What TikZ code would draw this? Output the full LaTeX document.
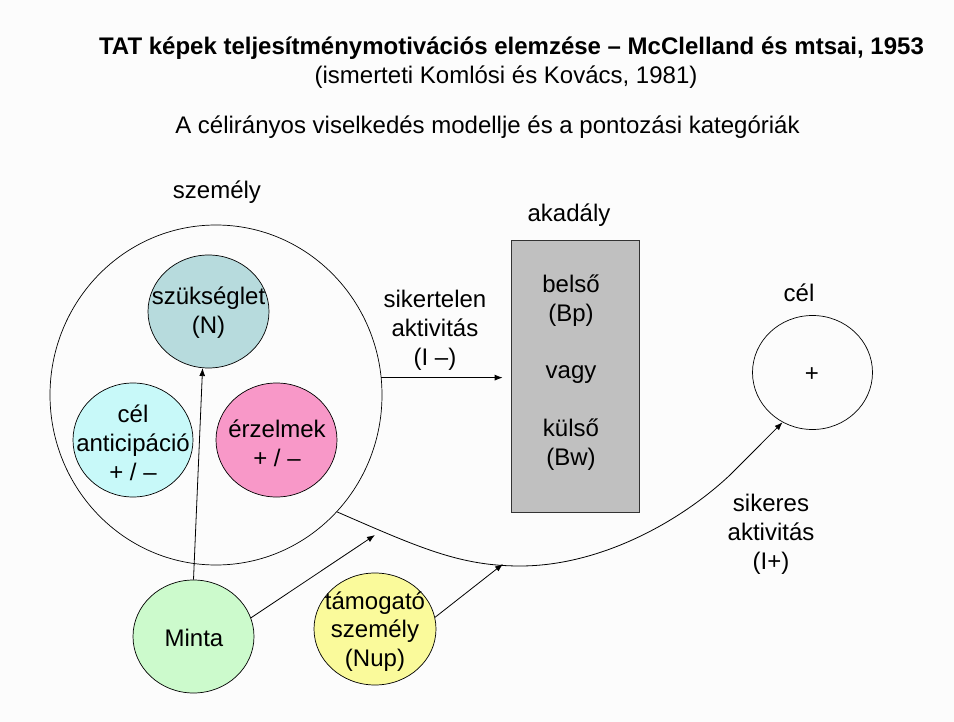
\documentclass[tikz,border=0pt]{standalone}
\usepackage{fontspec}
\setmainfont{Liberation Sans}
\usetikzlibrary{shapes.geometric,arrows.meta}
\definecolor{bg}{RGB}{252,252,252}
\definecolor{cSzuk}{RGB}{183,219,221}
\definecolor{cAnt}{RGB}{200,249,249}
\definecolor{cErz}{RGB}{248,152,200}
\definecolor{cMinta}{RGB}{204,250,204}
\definecolor{cTam}{RGB}{250,250,155}
\definecolor{cBox}{RGB}{192,192,192}
\begin{document}
\begin{tikzpicture}[x=1pt,y=-1pt,
  txt/.style={font=\fontsize{24}{28.8}\selectfont, align=center, inner sep=0pt},
  circ/.style={ellipse, draw=black, line width=0.7pt, inner sep=0pt},
  arr/.style={-{Latex[length=8pt,width=6pt]}, line width=0.8pt}]
\fill[bg] (0,0) rectangle (954,722);
\useasboundingbox (0,0) rectangle (954,722);

% titles
\node[txt, font=\fontsize{24}{28.8}\selectfont\bfseries] (title) at (511.5,48.5)
  {TAT képek teljesítménymotivációs elemzése – McClelland és mtsai, 1953};
\node[txt] (sub) at (506,77.5) {(ismerteti Komlósi és Kovács, 1981)};
\node[txt] (sub2) at (487.5,127.5) {A célirányos viselkedés modellje és a pontozási kategóriák};

% person
\node[txt] (szemlab) at (217,192.5) {személy};
\node[circ, minimum width=332, minimum height=340] (big) at (216,395) {};
\node[circ, fill=cSzuk, minimum width=121, minimum height=113] (szuk) at (208.5,311.5) {};
\node[txt] (szukT) at (208.5,313) {szükséglet\\(N)};
\node[circ, fill=cAnt, minimum width=120, minimum height=114] (ant) at (133,440) {};
\node[txt] (antT) at (133,442.5) {cél\\anticipáció\\+ / –};
\node[circ, fill=cErz, minimum width=121, minimum height=114] (erz) at (276.5,440) {};
\node[txt] (erzT) at (277,443.5) {érzelmek\\+ / –};

% minta and tamogato
\node[circ, fill=cMinta, minimum width=121, minimum height=113] (minta) at (193.5,636.5) {};
\node[txt] (mintaT) at (194,638) {Minta};
\node[circ, fill=cTam, minimum width=122, minimum height=112] (tam) at (375,629) {};
\node[txt] (tamT) at (375,631.5) {támogató\\személy\\(Nup)};

% obstacle
\node[txt] (akadlab) at (569,215.5) {akadály};
\node[draw=black!80, line width=0.7pt, fill=cBox, minimum width=128, minimum height=272, inner sep=0pt] (box) at (575,376) {};
\node[txt] (boxT) at (571,372.5) {belső\\(Bp)\\[28.8pt]vagy\\[28.8pt]külső\\(Bw)};

% goal
\node[txt] (cellab) at (799,292.5) {cél};
\node[circ, minimum width=120, minimum height=114] (cel) at (812.5,372.5) {};
\node[txt] (celT) at (812,375) {+};

% labels
\node[txt] (sikertelen) at (435,330) {sikertelen\\aktivitás\\(I –)};
\node[txt] (sikeres) at (771,534) {sikeres\\aktivitás\\(I+)};

% connectors
\coordinate (mintaEnd) at (375,535);
\coordinate (tamEnd) at (503,564);
\draw[arr] (minta.north) -- (szuk.-96);
\draw[arr] (minta.18) -- (mintaEnd);
\draw[arr] (tam.11) -- (tamEnd);
\draw[arr, shorten >=8pt] (big.6.5) -- (big.6.5 -| box.west);
\draw[arr] (big.-44) .. controls (420,548) and (460,566) .. (520,566)
  .. controls (600,566) and (680,522) .. (730,475) -- (cel.-121);
\end{tikzpicture}
\end{document}
